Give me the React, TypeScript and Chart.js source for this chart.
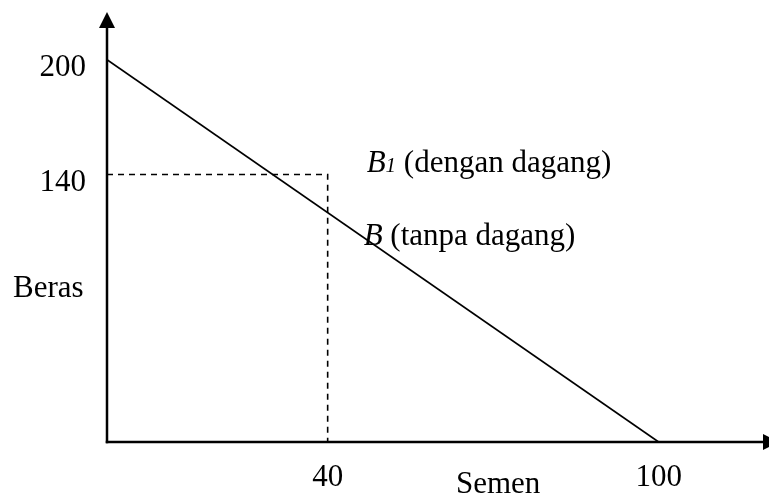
import React, { useEffect, useRef } from "react";
import { Chart, registerables } from "chart.js";

Chart.register(...registerables);

// ---- data ----
const xTicks = [40, 100];
const yTicks = [140, 200];
const ppfX = [0, 100];
const ppfY = [200, 0];
const tradeX = [0, 40, 40];
const tradeY = [140, 140, 0];
const xMax = 120;
const yMax = 225;
const xTitle = "Semen";
const yTitle = "Beras";
const pointLabelX = [40, 40];
const pointLabelY = [140, 120];
const pointLabelMain = ["B", "B"];
const pointLabelSub = ["1", ""];
const pointLabelText = ["(dengan dagang)", "(tanpa dagang)"];

const FONT = "'Liberation Serif', 'Times New Roman', serif";
const FS = 31;

const diagramPlugin = {
  id: "diagram",
  afterDatasetsDraw(chart: any) {
    const { ctx, scales, chartArea } = chart;
    const xs = scales.x;
    const ys = scales.y;
    const x0 = xs.getPixelForValue(0);
    const y0 = ys.getPixelForValue(0);
    ctx.save();
    ctx.strokeStyle = "#000";
    ctx.fillStyle = "#000";
    ctx.lineWidth = 2.5;
    // y axis
    const yTip = chartArea.top;
    ctx.beginPath();
    ctx.moveTo(x0, y0 + 1.25);
    ctx.lineTo(x0, yTip + 14);
    ctx.stroke();
    ctx.beginPath();
    ctx.moveTo(x0, yTip);
    ctx.lineTo(x0 - 8, yTip + 16);
    ctx.lineTo(x0 + 8, yTip + 16);
    ctx.closePath();
    ctx.fill();
    // x axis
    const xTip = chartArea.right + 10;
    ctx.beginPath();
    ctx.moveTo(x0 - 1.25, y0);
    ctx.lineTo(xTip - 14, y0);
    ctx.stroke();
    ctx.beginPath();
    ctx.moveTo(xTip, y0);
    ctx.lineTo(xTip - 16, y0 - 8);
    ctx.lineTo(xTip - 16, y0 + 8);
    ctx.closePath();
    ctx.fill();

    // axis titles
    ctx.textBaseline = "alphabetic";
    ctx.textAlign = "left";
    ctx.font = `${FS}px ${FONT}`;
    ctx.fillText(yTitle, 13, 297);
    ctx.fillText(xTitle, 456, 493);

    // point labels (placed to the right of the marked points)
    for (let i = 0; i < pointLabelX.length; i++) {
      const px = xs.getPixelForValue(pointLabelX[i]);
      const py = ys.getPixelForValue(pointLabelY[i]);
      let tx: number, ty: number;
      if (pointLabelSub[i]) {
        tx = px + 39;
        ty = py - 2;
      } else {
        tx = px + 36;
        ty = py + 32;
      }
      ctx.font = `italic ${FS}px ${FONT}`;
      ctx.fillText(pointLabelMain[i], tx, ty);
      tx += ctx.measureText(pointLabelMain[i]).width;
      if (pointLabelSub[i]) {
        ctx.font = `italic 21px ${FONT}`;
        ctx.fillText(pointLabelSub[i], tx, ty);
        tx += ctx.measureText(pointLabelSub[i]).width;
      }
      ctx.font = `${FS}px ${FONT}`;
      ctx.fillText(" " + pointLabelText[i], tx, ty);
    }
    ctx.restore();
  },
};

export default function App() {
  const canvasRef = useRef<HTMLCanvasElement | null>(null);

  useEffect(() => {
    const canvas = canvasRef.current;
    if (!canvas) return;
    const chart = new Chart(canvas, {
      type: "scatter",
      data: {
        datasets: [
          {
            label: "PPF",
            data: ppfX.map((x, i) => ({ x, y: ppfY[i] })),
            showLine: true,
            borderColor: "#000",
            borderWidth: 1.7,
            pointRadius: 0,
            fill: false,
          },
          {
            label: "Dengan dagang",
            data: tradeX.map((x, i) => ({ x, y: tradeY[i] })),
            showLine: true,
            borderColor: "#000",
            borderWidth: 1.6,
            borderDash: [6, 5],
            pointRadius: 0,
            fill: false,
          },
        ],
      },
      options: {
        responsive: false,
        animation: false,
        devicePixelRatio: 1,
        layout: { padding: { top: 12, left: 0, right: 0, bottom: 0 } },
        plugins: {
          legend: { display: false },
          tooltip: { enabled: false },
        },
        scales: {
          x: {
            type: "linear",
            min: 0,
            max: xMax,
            grid: { display: false, drawTicks: false },
            border: { display: false },
            afterBuildTicks: (s: any) => {
              s.ticks = xTicks.map((v) => ({ value: v }));
            },
            afterFit: (s: any) => {
              s.height = 54;
              s.paddingLeft = 0;
              s.paddingRight = 0;
              s.paddingTop = 0;
              s.paddingBottom = 0;
            },
            ticks: {
              color: "#000",
              font: { family: FONT, size: FS },
              padding: 17,
              maxRotation: 0,
              autoSkip: false,
              callback: (v: any) => String(v),
            },
          },
          y: {
            type: "linear",
            min: 0,
            max: yMax,
            grid: { display: false, drawTicks: false },
            border: { display: false },
            afterBuildTicks: (s: any) => {
              s.ticks = yTicks.map((v) => ({ value: v }));
            },
            afterFit: (s: any) => {
              s.width = 107;
              s.paddingLeft = 0;
              s.paddingRight = 0;
              s.paddingTop = 0;
              s.paddingBottom = 0;
            },
            ticks: {
              color: "#000",
              font: { family: FONT, size: FS },
              padding: 21,
              labelOffset: 8,
              autoSkip: false,
              callback: (v: any) => String(v),
            },
          },
        },
      },
      plugins: [diagramPlugin],
    });
    return () => chart.destroy();
  }, []);

  return (
    <div style={{ position: "absolute", left: 0, top: 0, width: 769, height: 496, background: "#fff" }}>
      <canvas ref={canvasRef} width={769} height={496} style={{ display: "block" }} />
    </div>
  );
}
